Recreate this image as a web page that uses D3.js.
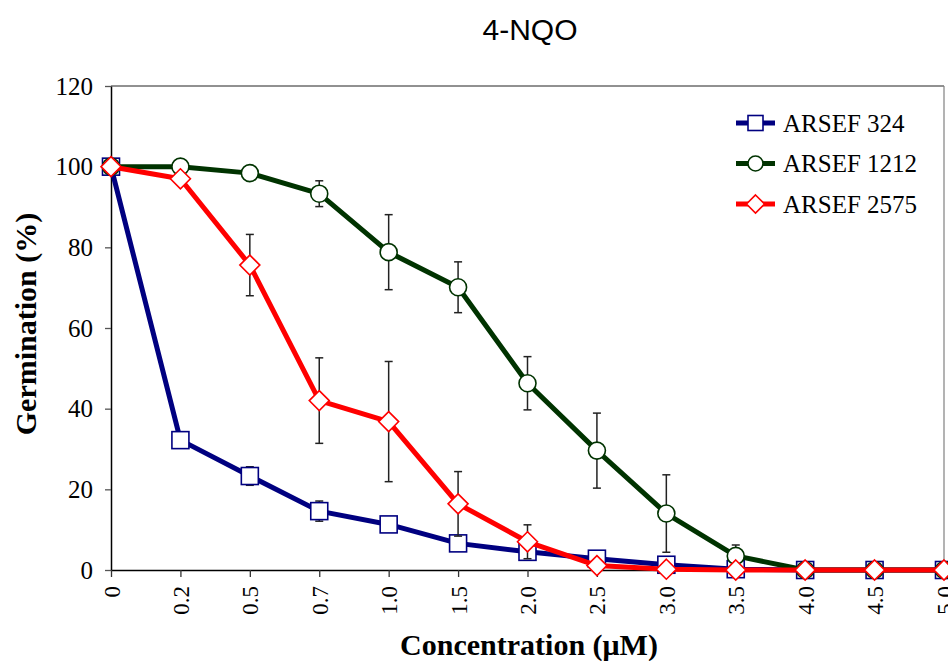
<!DOCTYPE html>
<html>
<head>
<meta charset="utf-8">
<script src="https://cdn.jsdelivr.net/npm/d3@7"></script>
<style>
  body { margin: 0; background: #fff; }
  svg { display: block; }
  .axis text { font-family: "Liberation Serif", "Times New Roman", serif; fill: #000; }
</style>
</head>
<body>
<svg width="948" height="661"></svg>
<script>
var width = 948;
var height = 661;
var margin = {left: 111, right: 4, top: 86, bottom: 91};

// values
var concentrations = ["0", "0.2", "0.5", "0.7", "1.0", "1.5", "2.0", "2.5", "3.0", "3.5", "4.0", "4.5", "5.0"];
var arsef324  = [100, 32.2, 23.3, 14.6, 11.3, 6.6, 4.5, 2.8, 1.3, 0.2, 0, 0, 0];
var err324    = [0, 0, 2.3, 2.5, 0.5, 0.5, 0.5, 0.3, 0.2, 0, 0, 0, 0];
var arsef1212 = [100, 100, 98.4, 93.3, 78.8, 70.1, 46.3, 29.6, 14.0, 3.5, 0, 0, 0];
var err1212   = [0, 0, 0, 3.2, 9.3, 6.3, 6.6, 9.3, 9.6, 2.7, 0, 0, 0];
var arsef2575 = [100, 97.0, 75.6, 42.0, 36.8, 16.4, 7.0, 1.1, 0.2, 0, 0, 0, 0];
var err2575   = [0, 0, 7.6, 10.6, 14.9, 8.0, 4.2, 0, 0, 0, 0, 0, 0];
var yTicks = [0, 20, 40, 60, 80, 100, 120];

var series = [
  {name: "ARSEF 324", values: arsef324, errors: err324, color: "#000080", marker: "square"},
  {name: "ARSEF 1212", values: arsef1212, errors: err1212, color: "#003300", marker: "circle"},
  {name: "ARSEF 2575", values: arsef2575, errors: err2575, color: "#ff0000", marker: "diamond"}
];

var svg = d3.select("svg");

var xScale = d3.scalePoint().domain(concentrations).range([margin.left, width - margin.right]).padding(0);
var yScale = d3.scaleLinear().domain([0, 120]).range([height - margin.bottom, margin.top]);

// plot frame (top and right)
svg.append("line")
  .attr("x1", margin.left).attr("x2", width - margin.right)
  .attr("y1", margin.top).attr("y2", margin.top)
  .attr("stroke", "#222").attr("stroke-width", 1);
svg.append("line")
  .attr("x1", width - margin.right).attr("x2", width - margin.right)
  .attr("y1", margin.top).attr("y2", height - margin.bottom)
  .attr("stroke", "#808080").attr("stroke-width", 1.2);

// axes
var yAxis = svg.append("g")
  .attr("class", "axis")
  .attr("transform", "translate(" + margin.left + ",0)")
  .call(d3.axisLeft(yScale).tickValues(yTicks).tickSize(6).tickPadding(12).tickSizeOuter(0));
yAxis.selectAll("text").style("font-size", "25px");
yAxis.select(".domain").attr("stroke", "#000").attr("stroke-width", 1.5);
yAxis.selectAll(".tick line").attr("stroke", "#555").attr("stroke-width", 1.3);

var xAxis = svg.append("g")
  .attr("class", "axis")
  .attr("transform", "translate(0," + (height - margin.bottom) + ")")
  .call(d3.axisBottom(xScale).tickSize(7).tickSizeOuter(0));
xAxis.select(".domain").attr("stroke", "#000").attr("stroke-width", 1.5);
xAxis.selectAll(".tick line").attr("stroke", "#333").attr("stroke-width", 1.3);
xAxis.selectAll("text")
  .style("font-size", "23px")
  .attr("transform", "rotate(-90)")
  .attr("x", -16)
  .attr("y", 0)
  .attr("dy", "0.35em")
  .style("text-anchor", "end");

// marker drawing
function drawMarker(g, type, color, size) {
  if (type == "square") {
    g.append("rect")
      .attr("x", -size / 2).attr("y", -size / 2)
      .attr("width", size).attr("height", size)
      .attr("fill", "#fff").attr("stroke", color).attr("stroke-width", 1.6);
  } else if (type == "circle") {
    g.append("circle")
      .attr("r", size / 2)
      .attr("fill", "#fff").attr("stroke", color).attr("stroke-width", 1.6);
  } else {
    var h = size / 2 + 1.5;
    g.append("path")
      .attr("d", "M0," + (-h) + "L" + h + ",0L0," + h + "L" + (-h) + ",0Z")
      .attr("fill", "#fff").attr("stroke", color).attr("stroke-width", 1.6);
  }
}

var line = d3.line()
  .x(function(d, i) { return xScale(concentrations[i]); })
  .y(function(d) { return yScale(d); });

series.forEach(function(s) {
  var g = svg.append("g");

  // error bars
  s.values.forEach(function(v, i) {
    var e = s.errors[i];
    if (!e) return;
    var x = xScale(concentrations[i]);
    var eb = g.append("g").attr("stroke", "#222").attr("stroke-width", 1.5);
    eb.append("line").attr("x1", x).attr("x2", x).attr("y1", yScale(v + e)).attr("y2", yScale(v - e));
    eb.append("line").attr("x1", x - 4).attr("x2", x + 4).attr("y1", yScale(v + e)).attr("y2", yScale(v + e));
    eb.append("line").attr("x1", x - 4).attr("x2", x + 4).attr("y1", yScale(v - e)).attr("y2", yScale(v - e));
  });

  g.append("path")
    .datum(s.values)
    .attr("d", line)
    .attr("fill", "none")
    .attr("stroke", s.color)
    .attr("stroke-width", 5)
    .attr("stroke-linejoin", "round");

  s.values.forEach(function(v, i) {
    var m = g.append("g").attr("transform", "translate(" + xScale(concentrations[i]) + "," + yScale(v) + ")");
    drawMarker(m, s.marker, s.color, 17);
  });
});

// legend
var legend = svg.append("g").attr("transform", "translate(736,123)");
series.forEach(function(s, i) {
  var row = legend.append("g").attr("transform", "translate(0," + (i * 40.5) + ")");
  row.append("line")
    .attr("x1", 0).attr("x2", 39)
    .attr("stroke", s.color).attr("stroke-width", 5);
  var m = row.append("g").attr("transform", "translate(19.5,0)");
  drawMarker(m, s.marker, s.color, 15);
  row.append("text")
    .attr("x", 47)
    .attr("dy", "0.35em")
    .style("font-family", "'Liberation Serif', 'Times New Roman', serif")
    .style("font-size", "25px")
    .text(s.name);
});

// title
svg.append("text")
  .attr("x", 530)
  .attr("y", 40)
  .style("text-anchor", "middle")
  .style("font-family", "'Liberation Sans', Arial, sans-serif")
  .style("font-size", "30px")
  .text("4-NQO");

// axis titles
svg.append("text")
  .attr("x", 529)
  .attr("y", 655)
  .style("text-anchor", "middle")
  .style("font-family", "'Liberation Serif', 'Times New Roman', serif")
  .style("font-weight", "bold")
  .style("font-size", "30px")
  .text("Concentration (\u03bcM)");

svg.append("text")
  .attr("transform", "rotate(-90)")
  .attr("x", -324)
  .attr("y", 36)
  .style("text-anchor", "middle")
  .style("font-family", "'Liberation Serif', 'Times New Roman', serif")
  .style("font-weight", "bold")
  .style("font-size", "30px")
  .text("Germination (%)");
</script>
</body>
</html>
